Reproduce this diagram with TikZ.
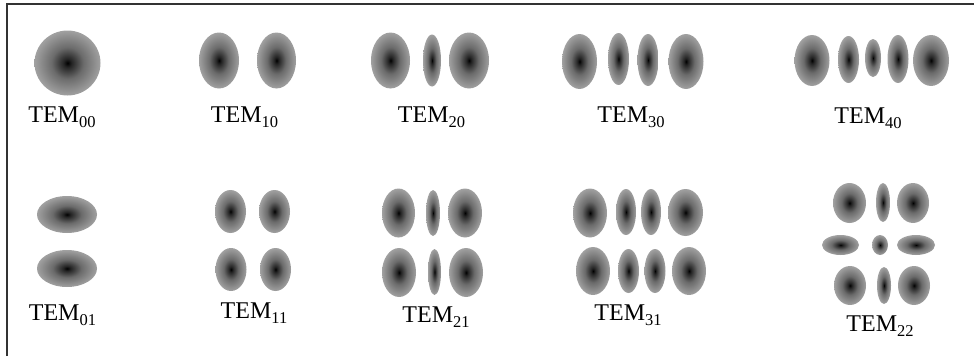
\documentclass[tikz,border=0pt]{standalone}
\usepackage{fontspec}
\setmainfont{Liberation Serif}
\definecolor{spotcore}{gray}{0.0}
\definecolor{spotinner}{gray}{0.14}
\definecolor{spotmid}{gray}{0.42}
\definecolor{spotrim}{gray}{0.63}
\definecolor{framegray}{gray}{0.2}
% radial intensity profile of a single lobe: dark centre fading to grey rim
\pgfdeclareradialshading{lobe}{\pgfpointorigin}{%
  color(0bp)=(spotcore); color(3bp)=(spotinner); color(12bp)=(spotmid);
  color(25bp)=(spotrim); color(50bp)=(spotrim)}
\tikzset{
  lobestyle/.style={shading=lobe},
  modelabel/.style={anchor=base, inner sep=0pt, font=\fontsize{24}{28}\selectfont},
  framestyle/.style={draw=framegray, line width=1.4pt}
}
\newcommand\lobe[4]{\shade[lobestyle] (#1,#2) ellipse ({#3pt} and {#4pt});}
\newcommand\tem[1]{TEM\raisebox{-5pt}{\fontsize{16.5}{17}\selectfont #1}}
\begin{document}
\begin{tikzpicture}[x=1pt, y=-1pt]
\useasboundingbox (0,0) rectangle (974,356);
% frame (top and left edges)
\draw[framestyle] (7,356) -- (7,4) -- (974,4);

% ---- first row: TEM_m0 ----
\lobe{67.5}{63}{33}{32.5}
\node[modelabel] (t00) at (62,122) {\tem{00}};

\lobe{219}{60.5}{20}{28}
\lobe{276.5}{60.5}{19.5}{28}
\node[modelabel] (t10) at (244.5,122) {\tem{10}};

\lobe{390.5}{60.5}{19.5}{28}
\lobe{432}{60.5}{9}{26}
\lobe{469}{60.5}{20}{28}
\node[modelabel] (t20) at (431.5,122) {\tem{20}};

\lobe{579.5}{61.5}{17.5}{27.5}
\lobe{618.5}{59}{10.5}{26}
\lobe{648}{60}{10.5}{26}
\lobe{686}{61.5}{17.5}{27.5}
\node[modelabel] (t30) at (631,122) {\tem{30}};

\lobe{812}{60.5}{17.5}{25.5}
\lobe{848.5}{59.5}{10.5}{23.5}
\lobe{873}{58}{8}{19}
\lobe{898}{59}{10.5}{24}
\lobe{931}{60.5}{18}{25.5}
\node[modelabel] (t40) at (868,123) {\tem{40}};

% ---- second row ----
\lobe{67}{214.5}{30}{18.5}
\lobe{67}{268.5}{30}{18.5}
\node[modelabel] (t01) at (62.5,320) {\tem{01}};

\lobe{230.5}{211.5}{15.5}{21.5}
\lobe{274.5}{211.5}{15.5}{21.5}
\lobe{231}{269.5}{15.5}{21.5}
\lobe{275.5}{269.5}{15.5}{21.5}
\node[modelabel] (t11) at (254,318) {\tem{11}};

\lobe{398.5}{213}{16.5}{24.5}
\lobe{433}{213}{7}{23}
\lobe{465}{213}{17}{24.5}
\lobe{399}{272.5}{17}{24.5}
\lobe{434.5}{272}{6.5}{23}
\lobe{466}{272.5}{17}{24.5}
\node[modelabel] (t21) at (436,322) {\tem{21}};

\lobe{590}{213}{17}{24.5}
\lobe{626}{212}{10}{23}
\lobe{651}{212}{10}{23}
\lobe{685.5}{212.5}{17.5}{23.5}
\lobe{593}{271}{17}{24}
\lobe{628.5}{271}{10.5}{22}
\lobe{655}{271}{10.5}{22}
\lobe{689}{271}{17}{24}
\node[modelabel] (t31) at (628,320) {\tem{31}};

\lobe{849.5}{203}{16.5}{20}
\lobe{883}{202.5}{7}{19.5}
\lobe{913}{203}{16}{20}
\lobe{840.5}{245}{18.5}{10}
\lobe{880}{245}{8}{10}
\lobe{916}{245}{19}{10}
\lobe{850}{285.5}{16}{19.5}
\lobe{884}{285.5}{7}{18.5}
\lobe{914}{285.5}{16}{19.5}
\node[modelabel] (t22) at (880,331) {\tem{22}};
\end{tikzpicture}
\end{document}
